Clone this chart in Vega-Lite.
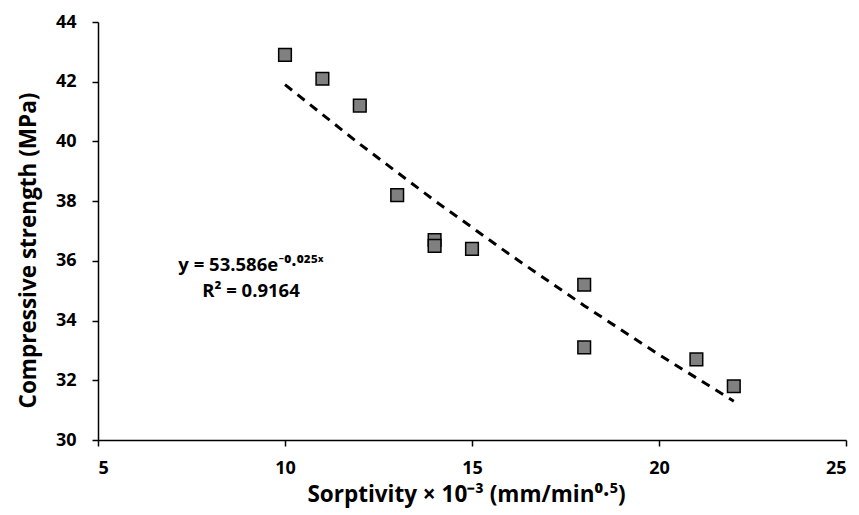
{
  "$schema": "https://vega.github.io/schema/vega-lite/v6.json",
  "width": 748,
  "height": 418,
  "autosize": {"type": "none"},
  "padding": {"left": 98, "top": 22, "right": 13, "bottom": 75},
  "background": "white",
  "config": {
    "view": {"stroke": null},
    "font": "Open Sans",
    "axis": {
      "grid": false,
      "domainColor": "black",
      "domainWidth": 1.5,
      "tickColor": "black",
      "tickWidth": 1.5,
      "tickSize": 6,
      "labelFont": "Open Sans",
      "labelFontWeight": "bold",
      "labelFontSize": 18,
      "labelColor": "black",
      "titleFont": "Open Sans",
      "titleFontWeight": "bold",
      "titleFontSize": 22.5,
      "titleColor": "black"
    }
  },
  "datasets": {
    "points": [
      {"x": 10, "y": 42.9},
      {"x": 11, "y": 42.1},
      {"x": 12, "y": 41.2},
      {"x": 13, "y": 38.2},
      {"x": 14, "y": 36.7},
      {"x": 14, "y": 36.5},
      {"x": 15, "y": 36.4},
      {"x": 18, "y": 35.2},
      {"x": 18, "y": 33.1},
      {"x": 21, "y": 32.7},
      {"x": 22, "y": 31.8}
    ],
    "trend": [
      {"x": 10, "y": 41.9},
      {"x": 12, "y": 39.91},
      {"x": 14, "y": 38.02},
      {"x": 16, "y": 36.22},
      {"x": 18, "y": 34.5},
      {"x": 20, "y": 32.86},
      {"x": 22, "y": 31.3}
    ],
    "labels": [
      {"x": 9.09, "y": 35.86, "t": "y = 53.586e⁻⁰·⁰²⁵ˣ"},
      {"x": 9.09, "y": 34.99, "t": "R² = 0.9164"}
    ]
  },
  "layer": [
    {
      "data": {"name": "trend"},
      "mark": {"type": "line", "color": "black", "strokeWidth": 3, "strokeDash": [9, 7]},
      "encoding": {
        "x": {
          "field": "x", "type": "quantitative",
          "scale": {"domain": [5, 25], "nice": false, "zero": false},
          "axis": {"values": [5, 10, 15, 20, 25], "labelPadding": 13, "titlePadding": 6, "titleX": 368,
                   "title": "Sorptivity × 10⁻³ (mm/min⁰·⁵)"}
        },
        "y": {
          "field": "y", "type": "quantitative",
          "scale": {"domain": [30, 44], "nice": false, "zero": false},
          "axis": {"values": [30, 32, 34, 36, 38, 40, 42, 44], "labelPadding": 16, "titlePadding": 15, "titleY": 228,
                   "title": "Compressive strength (MPa)"}
        }
      }
    },
    {
      "data": {"name": "points"},
      "mark": {"type": "point", "shape": "square", "filled": true, "fill": "#808080", "stroke": "black", "strokeWidth": 1.5, "size": 160, "opacity": 1},
      "encoding": {
        "x": {"field": "x", "type": "quantitative"},
        "y": {"field": "y", "type": "quantitative"}
      }
    },
    {
      "data": {"name": "labels"},
      "mark": {"type": "text", "font": "Open Sans, Lato", "fontWeight": "bold", "fontSize": 18.5, "color": "black", "align": "center", "baseline": "middle"},
      "encoding": {
        "x": {"field": "x", "type": "quantitative"},
        "y": {"field": "y", "type": "quantitative"},
        "text": {"field": "t"}
      }
    }
  ]
}
